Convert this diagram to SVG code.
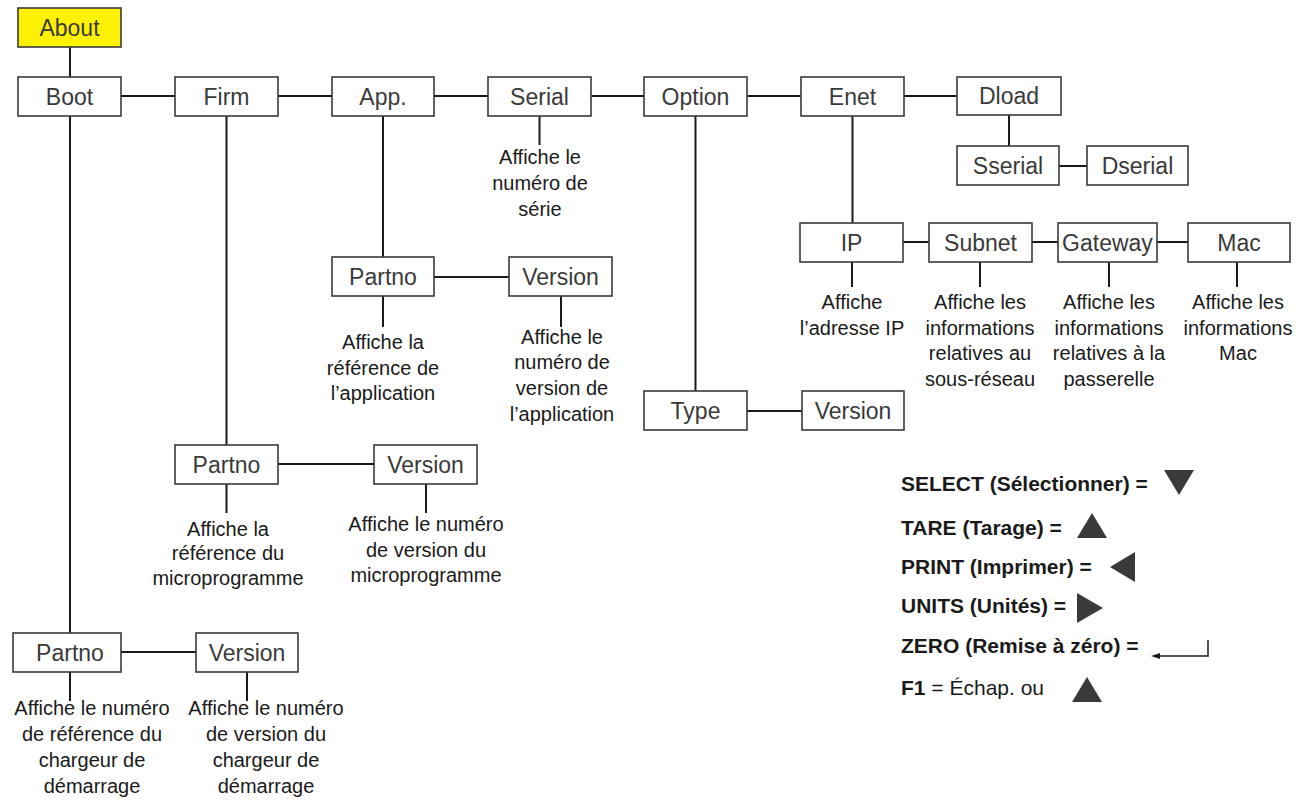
<svg xmlns="http://www.w3.org/2000/svg" width="1304" height="802" viewBox="0 0 1304 802">
<style>
.b{fill:#fff;stroke:#3a3a3a;stroke-width:1.6}
.y{fill:#fff200;stroke:#3a3a3a;stroke-width:1.6}
.l{font-family:"Liberation Sans",Arial,sans-serif;font-size:23px;fill:#3a3a3a;text-anchor:middle}
.d{font-family:"Liberation Sans",Arial,sans-serif;font-size:20px;fill:#1a1a1a;text-anchor:middle}
.g{font-family:"Liberation Sans",Arial,sans-serif;font-size:21px;fill:#1a1a1a;font-weight:bold}
.c line{stroke:#1a1a1a;stroke-width:2}
.t{fill:#3a3a3a}
</style>
<rect width="1304" height="802" fill="#fff"/>
<g class="c" id="connectors">
<line x1="70" y1="47" x2="70" y2="77"/>
<line x1="121" y1="96" x2="175" y2="96"/>
<line x1="278" y1="96" x2="332" y2="96"/>
<line x1="434" y1="96" x2="488" y2="96"/>
<line x1="591" y1="96" x2="644" y2="96"/>
<line x1="747" y1="96" x2="801" y2="96"/>
<line x1="904" y1="96" x2="957" y2="96"/>
<line x1="70" y1="116" x2="70" y2="633"/>
<line x1="226.5" y1="116" x2="226.5" y2="445"/>
<line x1="383" y1="116" x2="383" y2="257"/>
<line x1="539.5" y1="116" x2="539.5" y2="145"/>
<line x1="695.5" y1="116" x2="695.5" y2="391"/>
<line x1="852.5" y1="116" x2="852.5" y2="223"/>
<line x1="1009" y1="115" x2="1009" y2="146"/>
<line x1="1059" y1="166" x2="1087" y2="166"/>
<line x1="903" y1="242" x2="929" y2="242"/>
<line x1="1032" y1="242" x2="1058" y2="242"/>
<line x1="1157" y1="242" x2="1188" y2="242"/>
<line x1="852" y1="262" x2="852" y2="287"/>
<line x1="980" y1="262" x2="980" y2="287"/>
<line x1="1109" y1="262" x2="1109" y2="287"/>
<line x1="1237" y1="262" x2="1237" y2="287"/>
<line x1="434" y1="277" x2="509" y2="277"/>
<line x1="383" y1="296" x2="383" y2="327"/>
<line x1="561" y1="296" x2="561" y2="327"/>
<line x1="747" y1="411" x2="802" y2="411"/>
<line x1="278" y1="464" x2="374" y2="464"/>
<line x1="226.5" y1="484" x2="226.5" y2="513"/>
<line x1="426" y1="484" x2="426" y2="513"/>
<line x1="121" y1="652" x2="196" y2="652"/>
<line x1="70" y1="672" x2="70" y2="701"/>
<line x1="247" y1="672" x2="247" y2="701"/>
</g>
<g id="about"><rect class="y" x="18" y="8" width="103" height="39"/><text class="l" x="69.5" y="35.5">About</text></g>
<g id="boot"><rect class="b" x="18" y="77" width="103" height="39"/><text class="l" x="69.5" y="104.5">Boot</text></g>
<g id="firm"><rect class="b" x="175" y="77" width="103" height="39"/><text class="l" x="226.5" y="104.5">Firm</text></g>
<g id="app"><rect class="b" x="332" y="77" width="102" height="39"/><text class="l" x="383" y="104.5">App.</text></g>
<g id="serial"><rect class="b" x="488" y="77" width="103" height="39"/><text class="l" x="539.5" y="104.5">Serial</text></g>
<g id="option"><rect class="b" x="644" y="77" width="103" height="39"/><text class="l" x="695.5" y="104.5">Option</text></g>
<g id="enet"><rect class="b" x="801" y="77" width="103" height="39"/><text class="l" x="852.5" y="104.5">Enet</text></g>
<g id="dload"><rect class="b" x="957" y="77" width="104" height="38"/><text class="l" x="1009" y="104">Dload</text></g>
<g id="sserial"><rect class="b" x="957" y="146" width="102" height="39"/><text class="l" x="1008" y="173.5">Sserial</text></g>
<g id="dserial"><rect class="b" x="1087" y="146" width="101" height="39"/><text class="l" x="1137.5" y="173.5">Dserial</text></g>
<g id="serial-desc"><text class="d" x="540" y="164">Affiche le</text><text class="d" x="540" y="190">numéro de</text><text class="d" x="540" y="216">série</text></g>
<g id="ip"><rect class="b" x="800" y="223" width="103" height="39"/><text class="l" x="851.5" y="250.5">IP</text></g>
<g id="subnet"><rect class="b" x="929" y="223" width="103" height="39"/><text class="l" x="980.5" y="250.5">Subnet</text></g>
<g id="gateway"><rect class="b" x="1058" y="223" width="99" height="39"/><text class="l" x="1107.5" y="250.5">Gateway</text></g>
<g id="mac"><rect class="b" x="1188" y="223" width="102" height="39"/><text class="l" x="1239" y="250.5">Mac</text></g>
<g id="ip-desc"><text class="d" x="852" y="309">Affiche</text><text class="d" x="852" y="335">l’adresse IP</text></g>
<g id="subnet-desc"><text class="d" x="980" y="309">Affiche les</text><text class="d" x="980" y="335">informations</text><text class="d" x="980" y="360">relatives au</text><text class="d" x="980" y="386">sous-réseau</text></g>
<g id="gateway-desc"><text class="d" x="1109" y="309">Affiche les</text><text class="d" x="1109" y="335">informations</text><text class="d" x="1109" y="360">relatives à la</text><text class="d" x="1109" y="386">passerelle</text></g>
<g id="mac-desc"><text class="d" x="1238" y="309">Affiche les</text><text class="d" x="1238" y="335">informations</text><text class="d" x="1238" y="360">Mac</text></g>
<g id="app-partno"><rect class="b" x="332" y="257" width="102" height="39"/><text class="l" x="383" y="284.5">Partno</text></g>
<g id="app-version"><rect class="b" x="509" y="257" width="103" height="39"/><text class="l" x="560.5" y="284.5">Version</text></g>
<g id="app-partno-desc"><text class="d" x="383" y="349">Affiche la</text><text class="d" x="383" y="375">référence de</text><text class="d" x="383" y="400">l’application</text></g>
<g id="app-version-desc"><text class="d" x="562" y="344">Affiche le</text><text class="d" x="562" y="369">numéro de</text><text class="d" x="562" y="395">version de</text><text class="d" x="562" y="421">l’application</text></g>
<g id="type"><rect class="b" x="644" y="391" width="103" height="39"/><text class="l" x="695.5" y="418.5">Type</text></g>
<g id="option-version"><rect class="b" x="802" y="391" width="102" height="39"/><text class="l" x="853" y="418.5">Version</text></g>
<g id="firm-partno"><rect class="b" x="175" y="445" width="103" height="39"/><text class="l" x="226.5" y="472.5">Partno</text></g>
<g id="firm-version"><rect class="b" x="374" y="445" width="103" height="39"/><text class="l" x="425.5" y="472.5">Version</text></g>
<g id="firm-partno-desc"><text class="d" x="228" y="536">Affiche la</text><text class="d" x="228" y="560">référence du</text><text class="d" x="228" y="585">microprogramme</text></g>
<g id="firm-version-desc"><text class="d" x="426" y="531">Affiche le numéro</text><text class="d" x="426" y="557">de version du</text><text class="d" x="426" y="582">microprogramme</text></g>
<g id="boot-partno"><rect class="b" x="13" y="633" width="108" height="39"/><text class="l" x="70" y="660.5">Partno</text></g>
<g id="boot-version"><rect class="b" x="196" y="633" width="102" height="39"/><text class="l" x="247" y="660.5">Version</text></g>
<g id="boot-partno-desc"><text class="d" x="92" y="715">Affiche le numéro</text><text class="d" x="92" y="741">de référence du</text><text class="d" x="92" y="767">chargeur de</text><text class="d" x="92" y="793">démarrage</text></g>
<g id="boot-version-desc"><text class="d" x="266" y="715">Affiche le numéro</text><text class="d" x="266" y="741">de version du</text><text class="d" x="266" y="767">chargeur de</text><text class="d" x="266" y="793">démarrage</text></g>
<g id="legend">
<text class="g" x="901" y="491">SELECT (Sélectionner) =</text>
<polygon class="t" points="1164,470 1194,470 1179,495"/>
<text class="g" x="901" y="535">TARE (Tarage) =</text>
<polygon class="t" points="1077,538 1107,538 1092,513"/>
<text class="g" x="901" y="574">PRINT (Imprimer) =</text>
<polygon class="t" points="1135,552 1135,582 1110,567"/>
<text class="g" x="901" y="613">UNITS (Unités) =</text>
<polygon class="t" points="1077,593 1077,623 1103,608"/>
<text class="g" x="901" y="653">ZERO (Remise à zéro) =</text>
<path d="M1208,640 L1208,656 L1158,656" fill="none" stroke="#1a1a1a" stroke-width="1.5"/>
<polygon fill="#1a1a1a" points="1151,656 1160,653 1160,659"/>
<text class="g" x="901" y="695">F1 <tspan font-weight="normal">= Échap. ou</tspan></text>
<polygon class="t" points="1072,702 1102,702 1087,677"/>
</g>
</svg>
